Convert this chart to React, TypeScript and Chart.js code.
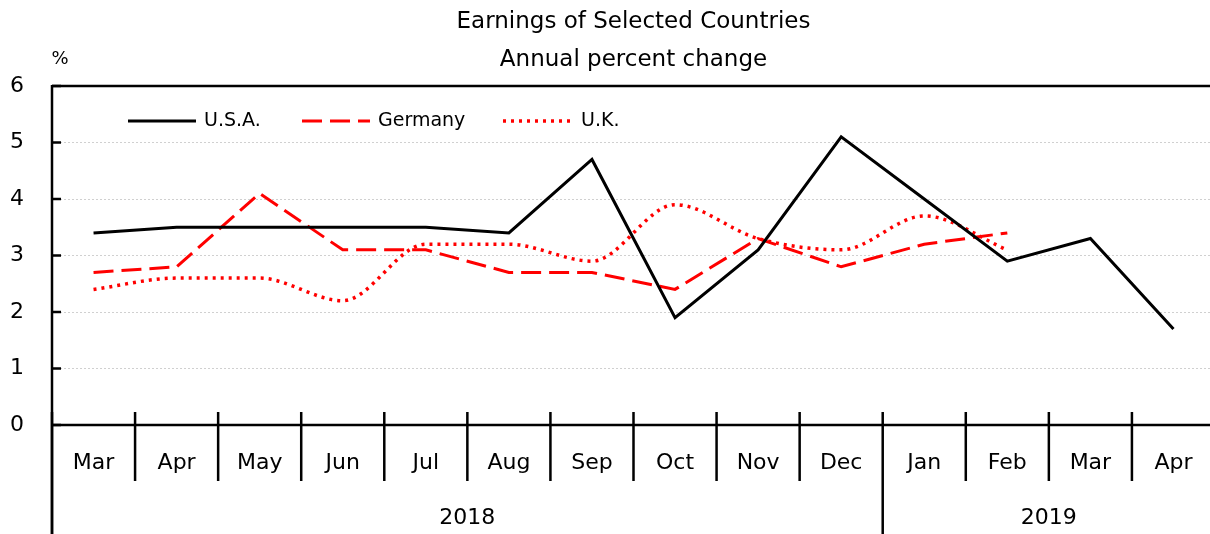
import React, { useEffect, useRef } from "react";
import { Chart, registerables } from "chart.js";

Chart.register(...registerables);

const months = ["Mar", "Apr", "May", "Jun", "Jul", "Aug", "Sep", "Oct", "Nov", "Dec", "Jan", "Feb", "Mar", "Apr"];
const years = [
  { label: "2018", start: 0, end: 10 },
  { label: "2019", start: 10, end: 14 },
];
const usa = [3.4, 3.5, 3.5, 3.5, 3.5, 3.4, 4.7, 1.9, 3.1, 5.1, 4.0, 2.9, 3.3, 1.7];
const germany = [2.7, 2.8, 4.1, 3.1, 3.1, 2.7, 2.7, 2.4, 3.3, 2.8, 3.2, 3.4, null, null];
const uk = [2.4, 2.6, 2.6, 2.2, 3.2, 3.2, 2.9, 3.9, 3.3, 3.1, 3.7, 3.1, null, null];
const yTicks = [0, 1, 2, 3, 4, 5, 6];
const titleLines = ["Earnings of Selected Countries", "Annual percent change"];
const unitLabel = "%";

const FONT = "'DejaVu Sans', sans-serif";

const decorPlugin = {
  id: "decor",
  afterDraw(chart: any) {
    const { ctx, chartArea } = chart;
    const { left, right, top, bottom } = chartArea;
    const xs = chart.scales.x;
    const ys = chart.scales.y;
    const H = chart.height;
    const boundary = (i: number) => xs.getPixelForValue(i - 0.5);
    ctx.save();
    ctx.setLineDash([]);
    ctx.strokeStyle = "#000";
    ctx.lineWidth = 2.5;
    ctx.lineCap = "butt";
    // frame lines
    ctx.beginPath();
    ctx.moveTo(left, top);
    ctx.lineTo(right + 2, top);
    ctx.moveTo(left, top - 1);
    ctx.lineTo(left, H);
    ctx.moveTo(left, bottom);
    ctx.lineTo(right + 2, bottom);
    ctx.stroke();
    // y inward ticks
    ctx.beginPath();
    yTicks.forEach((v) => {
      const y = ys.getPixelForValue(v);
      ctx.moveTo(left, y);
      ctx.lineTo(left + 9, y);
    });
    ctx.stroke();
    // x category boundaries
    ctx.beginPath();
    for (let i = 0; i <= months.length; i++) {
      const x = boundary(i);
      ctx.moveTo(x, bottom - 13);
      ctx.lineTo(x, bottom + 56);
    }
    years.forEach((yr) => {
      const x = boundary(yr.start);
      ctx.moveTo(x, bottom + 56);
      ctx.lineTo(x, H);
    });
    ctx.stroke();
    // year labels
    ctx.fillStyle = "#000";
    ctx.font = `22px ${FONT}`;
    ctx.textAlign = "center";
    ctx.textBaseline = "middle";
    years.forEach((yr) => {
      const x1 = boundary(yr.start);
      const x2 = yr.end >= months.length ? right : boundary(yr.end);
      ctx.fillText(yr.label, (x1 + x2) / 2, bottom + 93);
    });
    // title
    ctx.font = `23px ${FONT}`;
    const cx = (left + right) / 2;
    ctx.fillText(titleLines[0], cx, 22);
    ctx.fillText(titleLines[1], cx, 60);
    ctx.font = `18px ${FONT}`;
    ctx.fillText(unitLabel, 60, 59);
    // legend
    const ly = 121;
    const items = [
      { label: "U.S.A.", color: "#000", dash: [], width: 3, x1: 128, x2: 196, tx: 204 },
      { label: "Germany", color: "#ff0000", dash: [20, 8], width: 3, x1: 302, x2: 370, tx: 378 },
      { label: "U.K.", color: "#ff0000", dash: [3, 5], width: 3.5, x1: 503, x2: 574, tx: 581 },
    ];
    items.forEach((it) => {
      ctx.beginPath();
      ctx.strokeStyle = it.color;
      ctx.lineWidth = it.width;
      ctx.setLineDash(it.dash);
      ctx.moveTo(it.x1, ly);
      ctx.lineTo(it.x2, ly);
      ctx.stroke();
      ctx.setLineDash([]);
      ctx.fillStyle = "#000";
      ctx.font = `19px ${FONT}`;
      ctx.textAlign = "left";
      ctx.textBaseline = "middle";
      ctx.fillText(it.label, it.tx, ly);
    });
    ctx.restore();
  },
};

export default function App() {
  const ref = useRef<HTMLCanvasElement | null>(null);
  useEffect(() => {
    document.body.style.margin = "0";
    document.body.style.overflow = "hidden";
    if (!ref.current) return;
    const chart = new Chart(ref.current, {
      type: "line",
      data: {
        labels: months,
        datasets: [
          { label: "U.S.A.", data: usa, borderColor: "#000", borderWidth: 3, pointRadius: 0, tension: 0, fill: false },
          { label: "Germany", data: germany, borderColor: "#ff0000", borderWidth: 3, borderDash: [20, 8], pointRadius: 0, tension: 0, fill: false },
          { label: "U.K.", data: uk, borderColor: "#ff0000", borderWidth: 3.5, borderDash: [3, 5], pointRadius: 0, cubicInterpolationMode: "monotone", fill: false },
        ],
      },
      plugins: [decorPlugin],
      options: {
        responsive: false,
        animation: false,
        layout: { padding: { top: 86, right: 1, left: 0, bottom: 0 } },
        plugins: { legend: { display: false }, title: { display: false }, tooltip: { enabled: false } },
        scales: {
          x: {
            offset: true,
            grid: { display: false },
            border: { display: false },
            ticks: { color: "#000", font: { family: FONT, size: 22 }, padding: 17, autoSkip: false, maxRotation: 0 },
            afterFit: (s: any) => { s.height = 109; },
          },
          y: {
            min: 0,
            max: 6,
            grid: { color: "#d0d0d0", lineWidth: 1, drawTicks: false },
            border: { display: false, dash: [2, 2] },
            ticks: { stepSize: 1, color: "#000", font: { family: FONT, size: 22 }, padding: 28 },
            afterFit: (s: any) => { s.width = 52; },
          },
        },
      },
    });
    return () => chart.destroy();
  }, []);
  return (
    <div style={{ width: 1216, height: 534, overflow: "hidden" }}>
      <canvas ref={ref} width={1216} height={534} style={{ display: "block" }} />
    </div>
  );
}
